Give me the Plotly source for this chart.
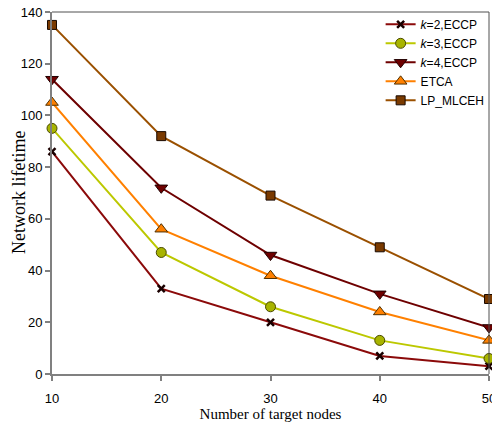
import plotly.graph_objects as go

nodes = [10, 20, 30, 40, 50]
k2_eccp = [86, 33, 20, 7, 3]
k3_eccp = [95, 47, 26, 13, 6]
k4_eccp = [114, 72, 46, 31, 18]
etca = [105, 56, 38, 24, 13]
lp_mlceh = [135, 92, 69, 49, 29]

y_ticks = [0, 20, 40, 60, 80, 100, 120, 140]
x_ticks = [10, 20, 30, 40, 50]

series = [
    ("<i>k</i>=2,ECCP", k2_eccp, "#8B0A0A", dict(symbol="x-thin", size=7, color="#1a0000",
                                                  line=dict(color="#1a0000", width=2.5))),
    ("<i>k</i>=3,ECCP", k3_eccp, "#BCC800", dict(symbol="circle", size=10, color="#A8B400",
                                                  line=dict(color="#4a4a00", width=1))),
    ("<i>k</i>=4,ECCP", k4_eccp, "#6E0000", dict(symbol="triangle-down", size=11, color="#6E0000",
                                                  line=dict(color="#200000", width=1))),
    ("ETCA", etca, "#FF8000", dict(symbol="triangle-up", size=11, color="#FF8000",
                                   line=dict(color="#503000", width=1))),
    ("LP_MLCEH", lp_mlceh, "#9A5000", dict(symbol="square", size=9, color="#7A3A00",
                                           line=dict(color="#1a0a00", width=1))),
]

fig = go.Figure()
for name, vals, col, mk in series:
    fig.add_trace(go.Scatter(x=nodes, y=vals, name=name, mode="lines+markers",
                             line=dict(color=col, width=2), marker=mk, cliponaxis=False))

# figure is a little wider than the window so the last x tick label is cut by the window edge,
# as in the reference
fig.update_layout(
    width=500, height=426,
    margin=dict(l=52, r=11, t=10, b=52),
    paper_bgcolor="white", plot_bgcolor="white",
    font=dict(family="Liberation Sans, Arial", size=13, color="#000000"),
    showlegend=True,
    legend=dict(x=0.752, y=1.006, xanchor="left", yanchor="top",
                bgcolor="rgba(0,0,0,0)", borderwidth=0,
                font=dict(family="Liberation Sans, Arial", size=12),
                tracegroupgap=0, itemwidth=30),
    xaxis=dict(range=[10, 50], tickvals=x_ticks, showgrid=False, zeroline=False,
               automargin=False,
               showline=True, linecolor="#808080", linewidth=2,
               ticks="outside", ticklen=5, tickcolor="#808080", tickwidth=1.5,
               ticklabelstandoff=6,
               title=dict(text="Number of target nodes", standoff=1,
                          font=dict(family="Liberation Serif, Times New Roman", size=15))),
    yaxis=dict(range=[0, 140], tickvals=y_ticks, showgrid=False, zeroline=False,
               automargin=False,
               showline=True, linecolor="#808080", linewidth=2,
               ticks="outside", ticklen=5, tickcolor="#808080", tickwidth=1.5),
    annotations=[
        dict(text="Network lifetime", textangle=-90, xref="paper", yref="paper",
             x=0, y=0.5, xanchor="center", yanchor="middle", xshift=-33, showarrow=False,
             font=dict(family="Liberation Serif, Times New Roman", size=18, color="#000000")),
    ],
    shapes=[
        dict(type="line", xref="paper", yref="paper", x0=0, x1=1, y0=1, y1=1,
             line=dict(color="#505050", width=1)),
        dict(type="line", xref="paper", yref="paper", x0=1, x1=1, y0=0, y1=1,
             line=dict(color="#505050", width=1)),
    ],
)

fig.write_html(
    "out.html",
    config={"displayModeBar": False},
    post_script="document.body.style.margin='0';"
                "document.documentElement.style.overflow='hidden';"
                "document.body.style.overflow='hidden';",
)
